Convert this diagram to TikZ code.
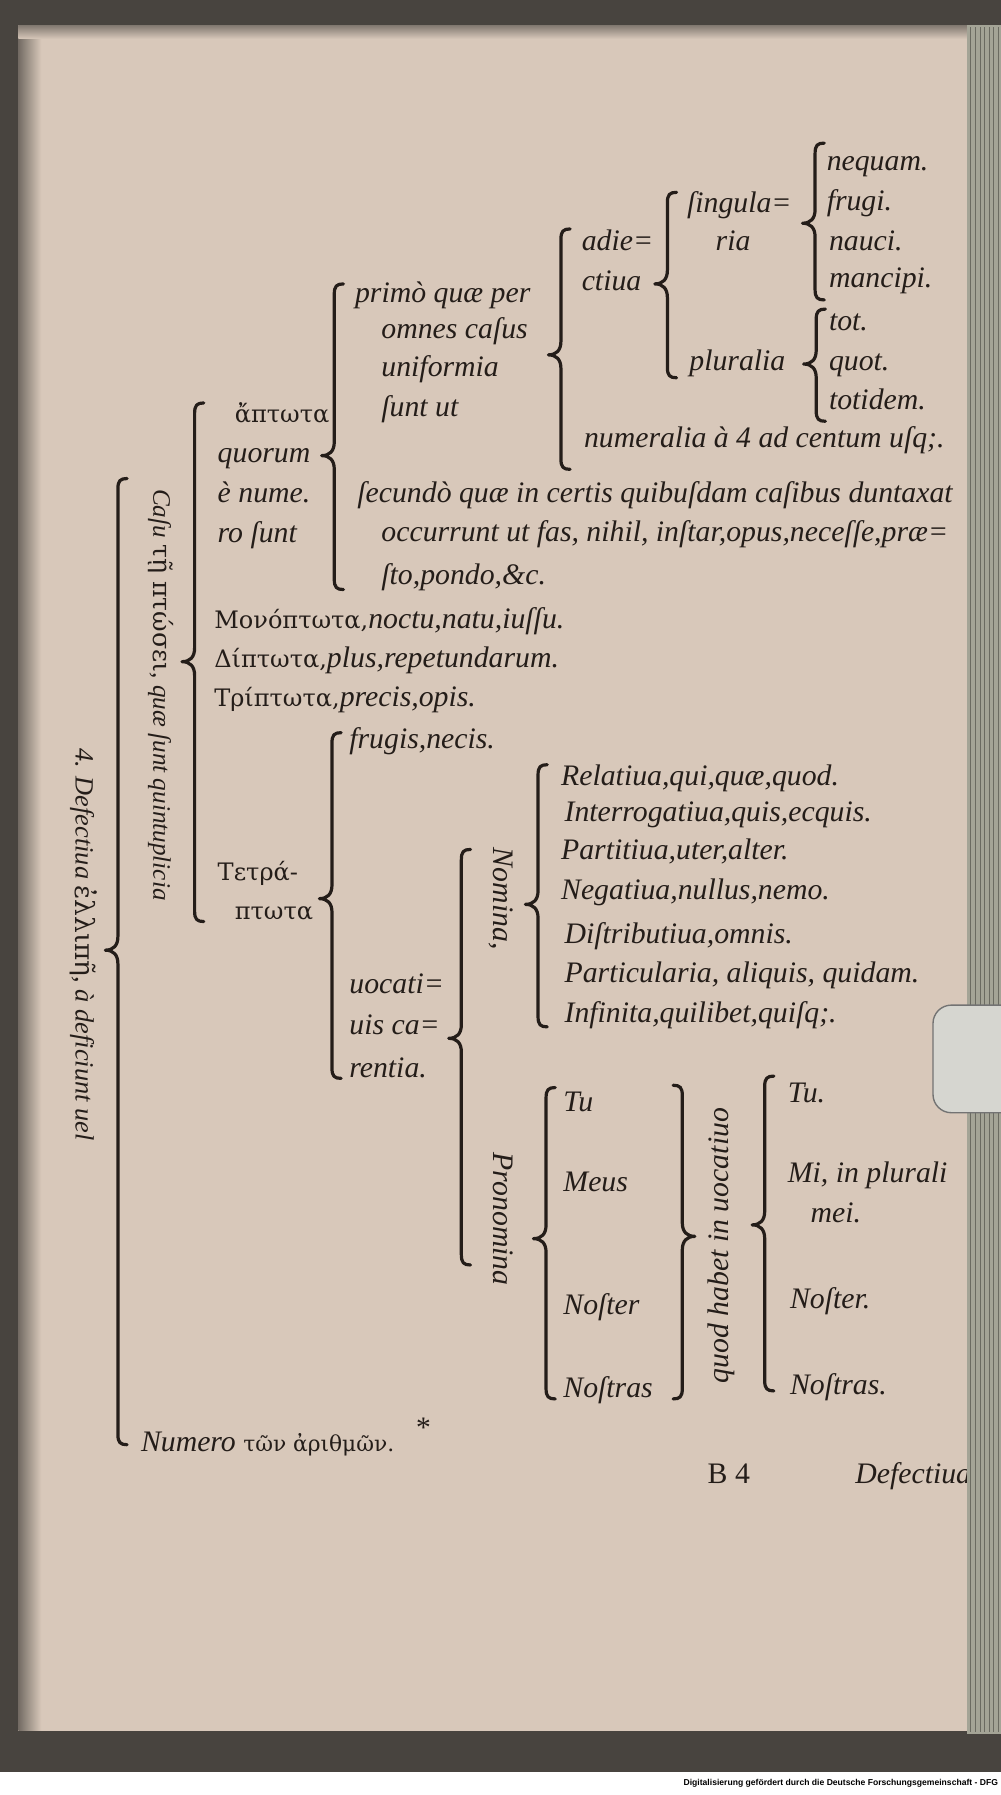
\documentclass[tikz,border=0pt]{standalone}
\usepackage{fontspec}
\setmainfont{Liberation Serif}
\newfontfamily\grk{DejaVu Serif}
\newfontfamily\footfont{Liberation Sans}
\usetikzlibrary{positioning}
\definecolor{ink}{HTML}{241D19}
\definecolor{paper}{HTML}{D8C8BA}
\definecolor{edge}{HTML}{48443F}
\definecolor{stack}{HTML}{A4A496}
\tikzset{
  every picture/.style={x=1pt, y=1pt},
  sbrace/.style={draw=ink, line width=2.8pt, line cap=round, line join=round},
  stext/.style={anchor=west, inner sep=0pt, text=ink, text height=18pt, text depth=6pt,
                font=\fontsize{26}{34}\selectfont\itshape},
  sgreek/.style={stext, font=\fontsize{21}{28}\selectfont\grk},
  srot/.style={stext, anchor=center, rotate=-90},
  srotup/.style={stext, anchor=center, rotate=90},
  sfoot/.style={anchor=east, inner sep=0pt, font=\fontsize{7.5}{9}\selectfont\footfont\bfseries},
}
% opening brace: x, top, tip, bottom (y counted downwards)
\newcommand{\obr}[4]{%
  \draw[sbrace] (#1+8,-#2) .. controls (#1+2,-#2) and (#1,-#2-2) .. (#1,-#2-9)
    -- (#1,-#3+12) .. controls (#1,-#3+4) and (#1-4,-#3) .. (#1-11,-#3)
    .. controls (#1-4,-#3) and (#1,-#3-4) .. (#1,-#3-12)
    -- (#1,-#4+9) .. controls (#1,-#4+2) and (#1+2,-#4) .. (#1+8,-#4);}
% closing brace
\newcommand{\cbr}[4]{%
  \draw[sbrace] (#1-8,-#2) .. controls (#1-2,-#2) and (#1,-#2-2) .. (#1,-#2-9)
    -- (#1,-#3+12) .. controls (#1,-#3+4) and (#1+4,-#3) .. (#1+11,-#3)
    .. controls (#1+4,-#3) and (#1,-#3-4) .. (#1,-#3-12)
    -- (#1,-#4+9) .. controls (#1,-#4+2) and (#1-2,-#4) .. (#1-8,-#4);}

\begin{document}
\begin{tikzpicture}
  \useasboundingbox (0,0) rectangle (874,-1568);
  % scan background
  \fill[edge] (0,0) rectangle (874,-1568);
  \fill[white] (0,-1548) rectangle (874,-1568);
  \fill[paper] (16,-22) rectangle (848,-1512);
  \shade[left color=edge!70!paper, right color=paper] (16,-22) rectangle (36,-1512);
  \shade[top color=edge!60!paper, bottom color=paper] (16,-22) rectangle (848,-34);

  % adiectiua
  \node[stext] (nequam) at (722,-143) {nequam.};
  \node[stext] (frugi) at (722,-178) {frugi.};
  \node[stext] (nauci) at (724,-213) {nauci.};
  \node[stext] (mancipi) at (724,-245) {mancipi.};
  \node[stext] (tot) at (724,-283) {tot.};
  \node[stext] (quot) at (724,-318) {quot.};
  \node[stext] (totidem) at (724,-352) {totidem.};
  \node[stext] (singula) at (600,-180) {ſingula=};
  \node[stext] (ria) at (625,-213) {ria};
  \node[stext] (pluralia) at (602,-318) {pluralia};
  \node[stext] (adie) at (508,-213) {adie=};
  \node[stext] (ctiua) at (508,-248) {ctiua};
  \node[stext] (numeralia) at (510,-385) {numeralia à 4 ad centum uſq;.};
  \obr{712}{125}{195}{262}
  \obr{713}{270}{318}{368}
  \obr{583}{168}{248}{330}
  \obr{490}{200}{310}{410}

  % aptota
  \node[stext] (primo1) at (310,-258) {primò quæ per};
  \node[stext] (primo2) at (333,-290) {omnes caſus};
  \node[stext] (primo3) at (333,-323) {uniformia};
  \node[stext] (primo4) at (333,-358) {ſunt ut};
  \node[stext] (secundo1) at (312,-433) {ſecundò quæ in certis quibuſdam caſibus duntaxat};
  \node[stext] (secundo2) at (333,-467) {occurrunt ut fas, nihil, inſtar,opus,neceſſe,præ=};
  \node[stext] (secundo3) at (333,-505) {ſto,pondo,\&c.};
  \obr{292}{248}{398}{515}
  \node[sgreek] (aptota) at (205,-363) {ἄπτωτα};
  \node[stext] (quorum) at (190,-398) {quorum};
  \node[stext] (enume) at (190,-433) {è nume.};
  \node[stext] (rosunt) at (190,-468) {ro ſunt};

  \node[stext] (mono) at (187,-543) {{\grk\upshape\fontsize{21}{28}\selectfont Μονόπτωτα,}noctu,natu,iuſſu.};
  \node[stext] (dipt) at (187,-577) {{\grk\upshape\fontsize{21}{28}\selectfont Δίπτωτα,}plus,repetundarum.};
  \node[stext] (tript) at (187,-611) {{\grk\upshape\fontsize{21}{28}\selectfont Τρίπτωτα,}precis,opis.};
  \node[sgreek] (tetra1) at (190,-763) {Τετρά-};
  \node[sgreek] (tetra2) at (205,-797) {πτωτα};
  \obr{170}{352}{578}{805}

  % tetraptota
  \node[stext] (frugis) at (305,-648) {frugis,necis.};
  \node[stext] (uocati1) at (305,-862) {uocati=};
  \node[stext] (uocati2) at (305,-898) {uis ca=};
  \node[stext] (uocati3) at (305,-935) {rentia.};
  \obr{290}{640}{785}{942}
  \obr{403}{742}{907}{1105}
  \node[srot] (nomina) at (437,-785) {Nomina,};
  \node[srot] (pronomina) at (437,-1065) {Pronomina};

  \node[stext] (rel) at (490,-680) {Relatiua,qui,quæ,quod.};
  \node[stext] (interrog) at (493,-712) {Interrogatiua,quis,ecquis.};
  \node[stext] (partit) at (490,-745) {Partitiua,uter,alter.};
  \node[stext] (negat) at (490,-780) {Negatiua,nullus,nemo.};
  \node[stext] (distrib) at (493,-818) {Diſtributiua,omnis.};
  \node[stext] (partic) at (493,-852) {Particularia, aliquis, quidam.};
  \node[stext] (infin) at (493,-887) {Infinita,quilibet,quiſq;.};
  \obr{470}{668}{790}{897}

  \node[stext] (tu) at (492,-965) {Tu};
  \node[stext] (meus) at (492,-1035) {Meus};
  \node[stext] (noster) at (492,-1142) {Noſter};
  \node[stext] (nostras) at (492,-1215) {Noſtras};
  \obr{477}{950}{1082}{1222}
  \cbr{596}{948}{1080}{1222}
  \node[srotup] (quodhabet) at (630,-1088) {quod habet in uocatiuo};
  \obr{668}{940}{1070}{1215}
  \node[stext] (tuv) at (688,-957) {Tu.};
  \node[stext] (mi) at (688,-1027) {Mi, in plurali};
  \node[stext] (mei) at (708,-1062) {mei.};
  \node[stext] (nosterv) at (690,-1137) {Noſter.};
  \node[stext] (nostrasv) at (690,-1212) {Noſtras.};

  % defectiua
  \node[srot, font=\fontsize{22}{28}\selectfont\itshape] (casu) at (140,-607)
        {Caſu {\grk\upshape τῇ πτώσει}, quæ ſunt quintuplicia};
  \node[srot, font=\fontsize{23}{28}\selectfont\itshape] (defect) at (72,-825)
        {4. Defectiua {\grk\upshape ἐλλιπῆ}, à deficiunt uel};
  \obr{103}{418}{830}{1262}
  \node[stext] (numero) at (123,-1262) {Numero {\grk\upshape\fontsize{19}{24}\selectfont τῶν ἀριθμῶν.}};
  \node[stext] (star) at (362,-1250) {*};
  \node[stext, font=\fontsize{26}{34}\selectfont] (sig) at (618,-1290) {B 4};
  \node[stext] (catch) at (747,-1290) {Defectiua};

  % page edges
  \fill[stack] (845,-22) rectangle (874,-1515);
  \foreach \i in {848,852,...,872}
    \draw[stack!65!black, line width=0.7pt] (\i,-24) -- (\i,-1513);
  \draw[draw=black!55, fill=stack!45!white, line width=1.2pt, rounded corners=16pt]
        (815,-878) rectangle (900,-972);
  \node[sfoot] (foot) at (872,-1558)
        {Digitalisierung gefördert durch die Deutsche Forschungsgemeinschaft - DFG};
\end{tikzpicture}
\end{document}
